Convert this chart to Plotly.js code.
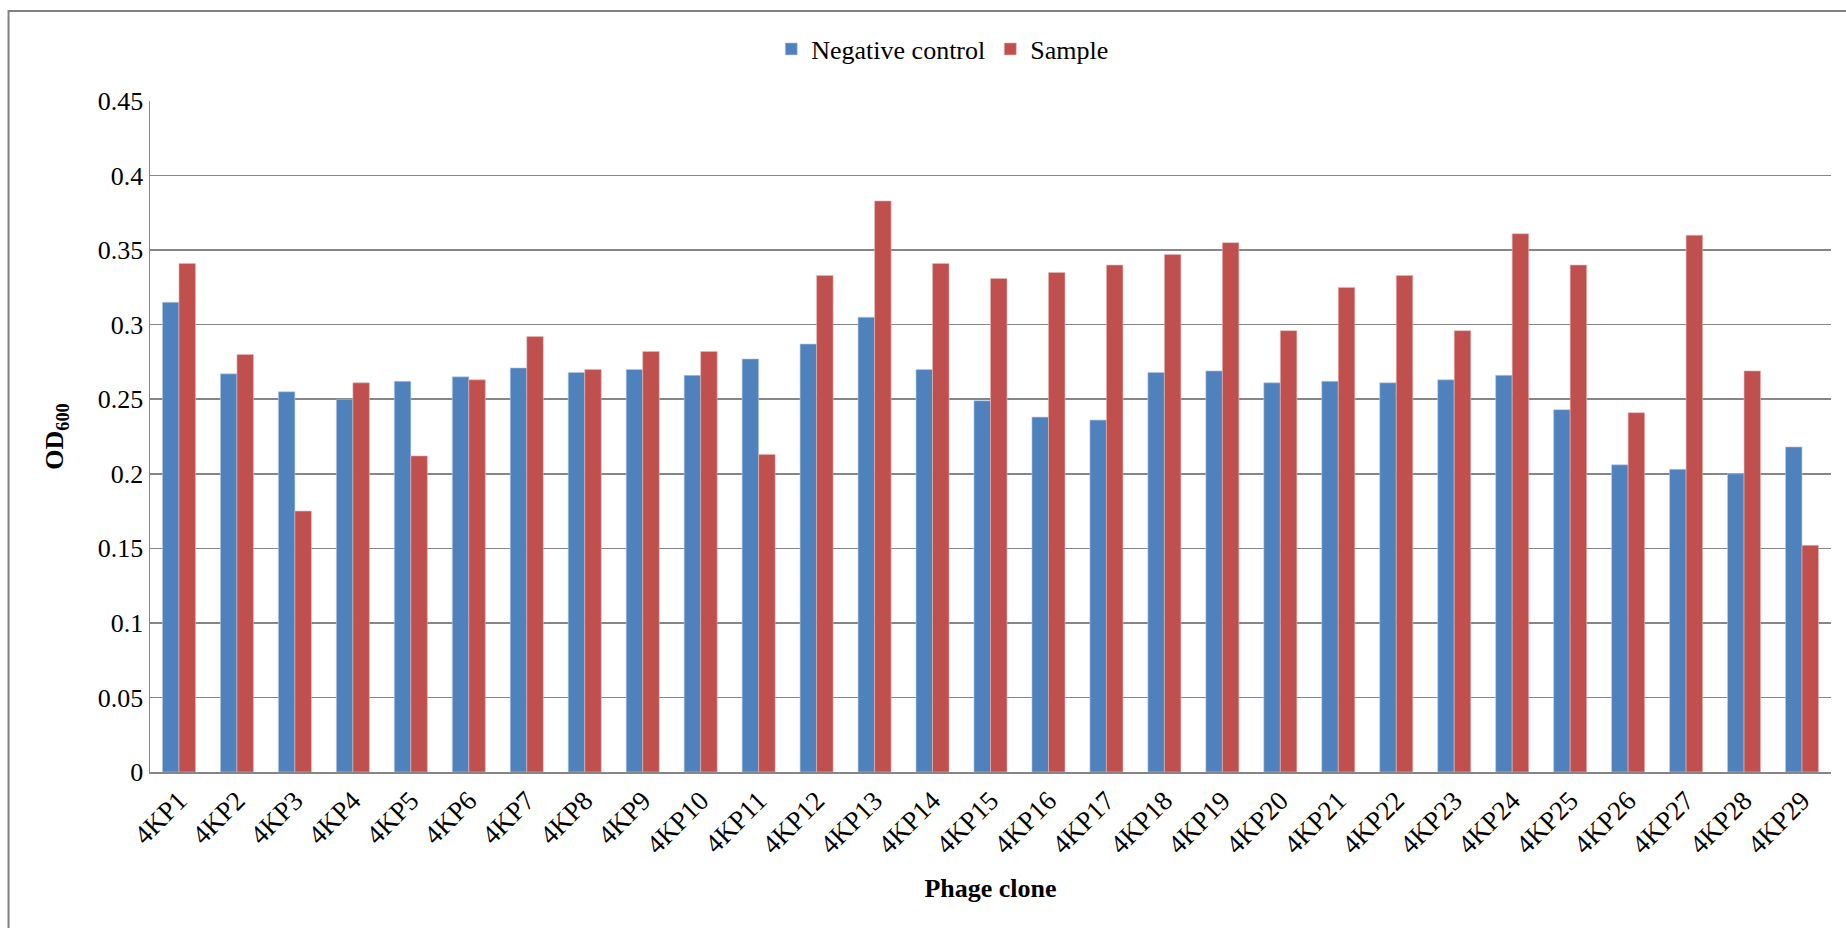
<!DOCTYPE html>
<html>
<head>
<meta charset="utf-8">
<script src="https://cdn.plot.ly/plotly-3.0.1.min.js"></script>
<style>html,body{margin:0;padding:0;background:#fff;}#chart{width:1846px;height:928px;}</style>
</head>
<body>
<div id="chart"></div>
<script>
const clones = ["4KP1","4KP2","4KP3","4KP4","4KP5","4KP6","4KP7","4KP8","4KP9","4KP10",
  "4KP11","4KP12","4KP13","4KP14","4KP15","4KP16","4KP17","4KP18","4KP19","4KP20",
  "4KP21","4KP22","4KP23","4KP24","4KP25","4KP26","4KP27","4KP28","4KP29"];
const negativeControl = [0.315,0.267,0.255,0.250,0.262,0.265,0.271,0.268,0.270,0.266,
  0.277,0.287,0.305,0.270,0.249,0.238,0.236,0.268,0.269,0.261,
  0.262,0.261,0.263,0.266,0.243,0.206,0.203,0.200,0.218];
const sample = [0.341,0.280,0.175,0.261,0.212,0.263,0.292,0.270,0.282,0.282,
  0.213,0.333,0.383,0.341,0.331,0.335,0.340,0.347,0.355,0.296,
  0.325,0.333,0.296,0.361,0.340,0.241,0.360,0.269,0.152];
const yTicks = [0,0.05,0.1,0.15,0.2,0.25,0.3,0.35,0.4,0.45];

const font = "Liberation Serif";
const traces = [
  {type:"bar", name:"Negative control", x:clones, y:negativeControl,
   marker:{color:"#4F81BD", line:{color:"#B9CDE5", width:0.6}}},
  {type:"bar", name:"Sample", x:clones, y:sample,
   marker:{color:"#C0504D", line:{color:"#E6B9B8", width:0.6}}}
];
const L=149.5, R=1831, T=101, B=772;
const pw=R-L, ph=B-T;
const layout = {
  width:1846, height:928,
  margin:{l:L, r:1846-R, t:T, b:928-B, pad:0},
  paper_bgcolor:"#fff", plot_bgcolor:"#fff",
  font:{family:font, size:26, color:"#000"},
  barmode:"group", bargap:0.43, bargroupgap:0,
  showlegend:true,
  legend:{orientation:"h", x:(942-L)/pw, xanchor:"center", y:(B-49)/ph, yanchor:"middle",
    font:{family:font, size:26, color:"#000"}, itemwidth:30, bgcolor:"rgba(0,0,0,0)"},
  xaxis:{type:"category", tickangle:-45, tickfont:{family:font, size:27, color:"#000"},
    showline:true, linecolor:"#868686", linewidth:2, ticks:"", showgrid:false,
    title:{text:"<b>Phage clone</b>", font:{family:font, size:26, color:"#000"}, standoff:20}},
  yaxis:{range:[0,0.45], tickvals:yTicks, ticktext:yTicks.map(String),
    tickfont:{family:font, size:26, color:"#000"}, showline:true, linecolor:"#868686", linewidth:1.5,
    showgrid:true, gridcolor:"#868686", gridwidth:1.5, zeroline:false, ticks:"", ticklen:0,
    title:{text:"<b>OD<sub>600</sub></b>", font:{family:font, size:26, color:"#000"}, standoff:26}},
  shapes:[{type:"rect", xref:"paper", yref:"paper",
    x0:(8-L)/pw, x1:(1860-L)/pw, y0:(B-940)/ph, y1:(B-11)/ph,
    line:{color:"#808080", width:2}, fillcolor:"rgba(0,0,0,0)", layer:"below"}]
};
Plotly.newPlot("chart", traces, layout, {displayModeBar:false, staticPlot:true});
</script>
</body>
</html>
